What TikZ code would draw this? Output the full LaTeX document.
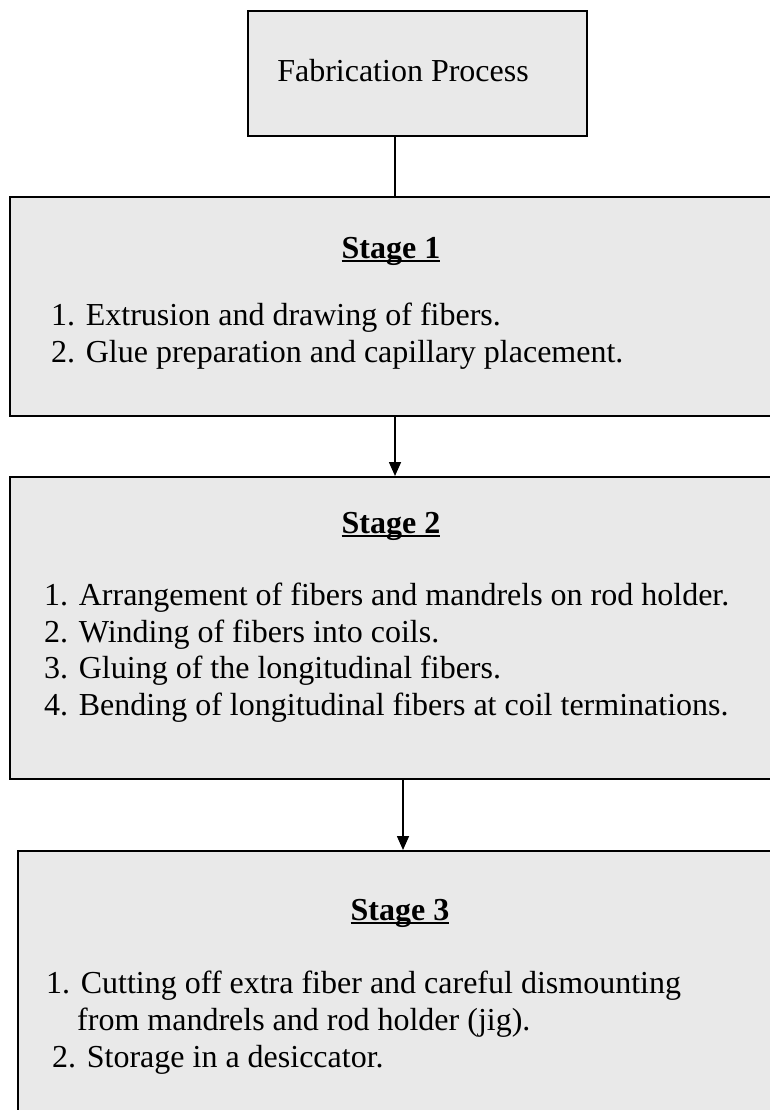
\documentclass[tikz,border=0pt]{standalone}
\usepackage{fontspec}
\setmainfont{Liberation Serif}
\usetikzlibrary{arrows.meta}
\definecolor{boxgray}{RGB}{233,233,233}
\newcommand{\stitle}[1]{\setbox0\hbox{\bfseries #1}\rlap{\rule[-4pt]{\wd0}{1.8pt}}\box0}
\tikzset{
  stagebox/.style={draw=black, line width=2pt, fill=boxgray, rectangle, inner sep=0pt},
  txt/.style={anchor=base west, inner sep=0pt, font=\fontsize{32}{36.7}\selectfont},
  ttl/.style={anchor=base, inner sep=0pt, font=\fontsize{32}{36.7}\selectfont},
  conn/.style={draw=black, line width=1.6pt},
  arr/.style={conn, -{Triangle[length=14pt,width=12pt]}}
}
\begin{document}
\begin{tikzpicture}[x=1pt,y=-1pt]
\useasboundingbox (0,0) rectangle (769,1110);
% boxes
\node[stagebox, minimum width=339pt, minimum height=125pt] (top) at (417.5,73.5) {};
\node[stagebox, minimum width=762pt, minimum height=219pt] (s1) at (391,306.5) {};
\node[stagebox, minimum width=762pt, minimum height=302pt] (s2) at (391,628) {};
\node[stagebox, minimum width=756pt, minimum height=266pt] (s3) at (396,984) {};
% connector x positions
\coordinate (c1) at (395,0);
\coordinate (c2) at (395,0);
\coordinate (c3) at (403,0);
\draw[conn] (top.south -| c1) -- (s1.north -| c1);
\draw[arr] (s1.south -| c2) -- (s2.north -| c2);
\draw[arr] (s2.south -| c3) -- (s3.north -| c3);
% texts
\node[ttl] (toptxt) at (403,82) {Fabrication Process};
\node[ttl] (s1t) at (391,258) {\stitle{Stage 1}};
\node[txt] (s1a) at (51,325) {1. Extrusion and drawing of fibers.};
\node[txt] (s1b) at (51,362) {2. Glue preparation and capillary placement.};
\node[ttl] (s2t) at (391,533) {\stitle{Stage 2}};
\node[txt] (s2a) at (44,605) {1. Arrangement of fibers and mandrels on rod holder.};
\node[txt] (s2b) at (44,642) {2. Winding of fibers into coils.};
\node[txt] (s2c) at (44,678) {3. Gluing of the longitudinal fibers.};
\node[txt] (s2d) at (44,715) {4. Bending of longitudinal fibers at coil terminations.};
\node[ttl] (s3t) at (400,920) {\stitle{Stage 3}};
\node[txt] (s3a) at (46,993) {1. Cutting off extra fiber and careful dismounting};
\node[txt] (s3b) at (77,1030) {from mandrels and rod holder (jig).};
\node[txt] (s3c) at (52,1067) {2. Storage in a desiccator.};
\end{tikzpicture}
\end{document}
